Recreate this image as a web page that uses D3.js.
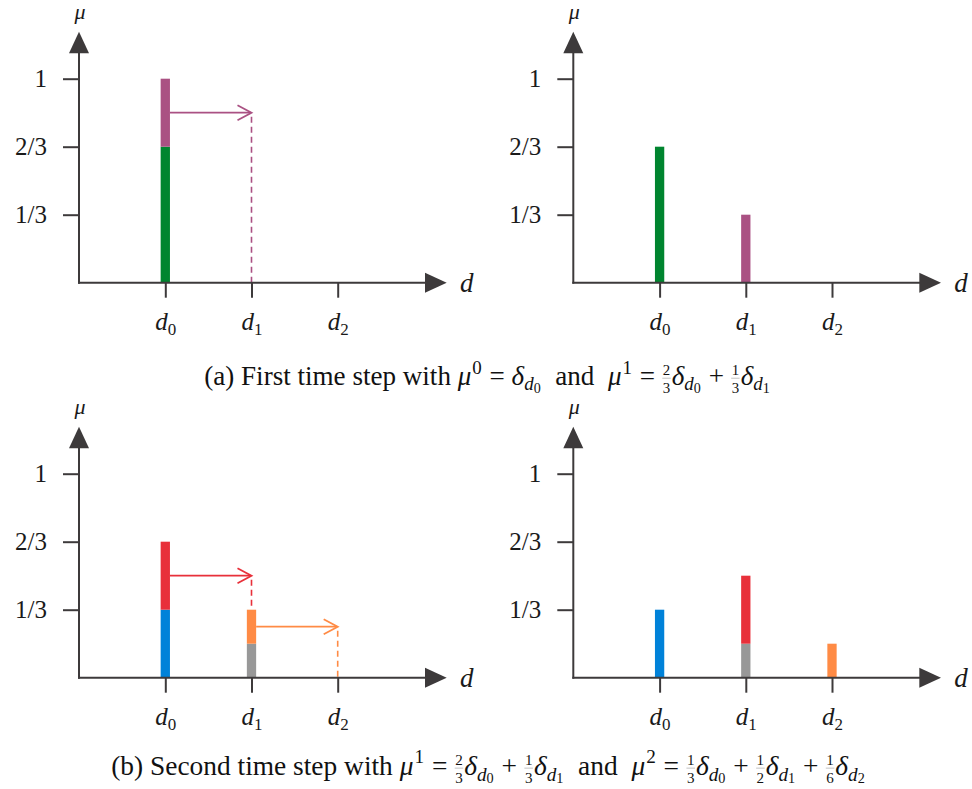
<!DOCTYPE html>
<html><head><meta charset="utf-8">
<script src="https://cdn.jsdelivr.net/npm/d3@7"></script>
<style>body{margin:0;background:#fff} text{white-space:pre}</style>
</head><body><svg id="chart" width="972" height="789"></svg>
<script>
// ---------- data ----------
const categories = ["d0", "d1", "d2"];
const categorySubs = ["0", "1", "2"];
const yTickValues = [1/3, 2/3, 1];
const yTickLabels = ["1/3", "2/3", "1"];

// stacked segments: [category, series, lower, upper]
const segmentsA0 = [["d0","greenA",0,2/3], ["d0","purpleA",2/3,1]];
const segmentsA1 = [["d0","greenA",0,2/3], ["d1","purpleA",0,1/3]];
const segmentsB0 = [["d0","blueB",0,1/3], ["d0","redB",1/3,2/3], ["d1","grayB",0,1/6], ["d1","orangeB",1/6,1/3]];
const segmentsB1 = [["d0","blueB",0,1/3], ["d1","grayB",0,1/6], ["d1","redB",1/6,1/2], ["d2","orangeB",0,1/6]];

// transport arrows: [from, to, level, dashed-line bottom, series]
const arrowsA0 = [["d0","d1",5/6,0,"purpleA"]];
const arrowsB0 = [["d0","d1",1/2,1/3,"redB"], ["d1","d2",1/4,0,"orangeB"]];

const seriesColors = {greenA:"#00852f", purpleA:"#aa5183", blueB:"#0082d9", redB:"#e8303a", grayB:"#989898", orangeB:"#ff8b45"};

// captions: [kind, text(, text)]
const captionA = [["r","(a) First time step with "],["i","μ"],["sup","0"],["r"," = "],["i","δ"],["subi","d"],["subsub","0"],["r","  and  "],
  ["i","μ"],["sup","1"],["r"," = "],["frac","2","3"],["i","δ"],["subi","d"],["subsub","0"],["r"," + "],["frac","1","3"],["i","δ"],["subi","d"],["subsub","1"]];
const captionB = [["r","(b) Second time step with "],["i","μ"],["sup","1"],["r"," = "],["frac","2","3"],["i","δ"],["subi","d"],["subsub","0"],["r"," + "],["frac","1","3"],["i","δ"],["subi","d"],["subsub","1"],["r","  and  "],
  ["i","μ"],["sup","2"],["r"," = "],["frac","1","3"],["i","δ"],["subi","d"],["subsub","0"],["r"," + "],["frac","1","2"],["i","δ"],["subi","d"],["subsub","1"],["r"," + "],["frac","1","6"],["i","δ"],["subi","d"],["subsub","2"]];

// ---------- layout ----------
const svg = d3.select("#chart");
const FONT = "Liberation Serif";
const AX = "#3d3a3b";
const UNIT = 204, BW = 9.3;
const x = d3.scalePoint().domain(categories).range([86.3, 258.7]);
const y = d3.scaleLinear().domain([0, 1]).range([0, -UNIT]);

const panels = [
  {ox:79, oy:282.7, seg:segmentsA0, arr:arrowsA0},
  {ox:573.3, oy:282.7, seg:segmentsA1, arr:[]},
  {ox:79, oy:677.7, seg:segmentsB0, arr:arrowsB0},
  {ox:573.3, oy:677.7, seg:segmentsB1, arr:[]}
];

panels.forEach(p => {
  const g = svg.append("g").attr("transform", `translate(${p.ox},${p.oy})`);
  g.selectAll("rect.bar").data(p.seg).join("rect").attr("class","bar")
    .attr("x", d => x(d[0]) - BW/2).attr("width", BW)
    .attr("y", d => y(d[3])).attr("height", d => y(d[2]) - y(d[3]))
    .attr("fill", d => seriesColors[d[1]]);
  p.arr.forEach(a => {
    const col = seriesColors[a[4]];
    const x0 = x(a[0]) + BW/2, x1 = x(a[1]), yy = y(a[2]);
    g.append("line").attr("x1", x0).attr("x2", x1 - 1).attr("y1", yy).attr("y2", yy)
      .attr("stroke", col).attr("stroke-width", 1.7);
    g.append("path").attr("d", `M${x1-14},${yy-7.5}L${x1},${yy}L${x1-14},${yy+7.5}`)
      .attr("fill","none").attr("stroke", col).attr("stroke-width", 1.8);
    g.append("line").attr("x1", x1).attr("x2", x1).attr("y1", yy + 4).attr("y2", y(a[3]))
      .attr("stroke", col).attr("stroke-width", 1.6).attr("stroke-dasharray", "6,4");
  });
  const ya = g.append("g").call(d3.axisLeft(y).tickValues(yTickValues)
      .tickFormat((d, i) => yTickLabels[i]).tickSize(16).tickPadding(16));
  ya.attr("font-family", FONT).attr("font-size", 25);
  ya.select(".domain").remove();
  ya.selectAll("line").attr("stroke", AX).attr("stroke-width", 2);
  ya.selectAll("text").attr("fill", "#1a1a1a").attr("dy", "0.33em");
  const xa = g.append("g").call(d3.axisBottom(x).tickSize(15).tickPadding(16).tickFormat(() => ""));
  xa.attr("font-family", FONT).attr("font-size", 25);
  xa.select(".domain").remove();
  xa.selectAll("line").attr("stroke", AX).attr("stroke-width", 2);
  xa.selectAll("text").each(function(d, i) {
    const t = d3.select(this).attr("fill", "#1a1a1a").attr("dy", "0.64em");
    t.append("tspan").attr("font-style", "italic").text("d");
    t.append("tspan").attr("font-size", 17).attr("dy", 5).text(categorySubs[i]);
  });
  g.append("line").attr("x1", 0).attr("x2", 0).attr("y1", 1).attr("y2", -231).attr("stroke", AX).attr("stroke-width", 2);
  g.append("line").attr("x1", -1).attr("x2", 347).attr("y1", 0).attr("y2", 0).attr("stroke", AX).attr("stroke-width", 2);
  g.append("path").attr("d", "M0,-251L-10,-229.5L10,-229.5Z").attr("fill", AX);
  g.append("path").attr("d", "M367.7,0L346,-10L346,10Z").attr("fill", AX);
  g.append("text").attr("x", 1).attr("y", -263.5).attr("text-anchor", "middle")
    .attr("font-family", FONT).attr("font-style", "italic").attr("font-size", 22).attr("fill", "#1a1a1a").text("μ");
  g.append("text").attr("x", 381).attr("y", 9.5)
    .attr("font-family", FONT).attr("font-style", "italic").attr("font-size", 27).attr("fill", "#1a1a1a").text("d");
});

// ---------- captions ----------
function layoutCaption(g, tokens, F) {
  g.selectAll("*").remove();
  let cx = 0;
  const add = (s, size, dy, italic, px) => g.append("text").attr("x", px).attr("y", dy).attr("font-family", FONT)
      .attr("font-size", size).attr("fill", "#111").attr("font-style", italic ? "italic" : "normal").text(s);
  tokens.forEach(tk => {
    const k = tk[0];
    if (k === "r" || k === "i") {
      const t = add(tk[1], F, 0, k === "i", cx); cx += t.node().getComputedTextLength();
    } else if (k === "sup") {
      const t = add(tk[1], F*0.7, -F*0.42, false, cx + 1); cx += t.node().getComputedTextLength() + 2;
    } else if (k === "subi") {
      const t = add(tk[1], F*0.7, F*0.2, true, cx); cx += t.node().getComputedTextLength();
    } else if (k === "subsub") {
      const t = add(tk[1], F*0.52, F*0.3, false, cx); cx += t.node().getComputedTextLength() + 1;
    } else if (k === "frac") {
      const n = add(tk[1], F*0.55, -F*0.38, false, cx + 1);
      const d = add(tk[2], F*0.55, F*0.3, false, cx + 1);
      const w = Math.max(n.node().getComputedTextLength(), d.node().getComputedTextLength());
      g.append("line").attr("x1", cx + 0.5).attr("x2", cx + 1.5 + w).attr("y1", -F*0.25).attr("y2", -F*0.25)
        .attr("stroke", "#999").attr("stroke-width", 0.6);
      cx += w + 2.5;
    }
  });
  return cx;
}
function caption(tokens, cxTarget, baseline, widthTarget) {
  const g = svg.append("g");
  const w0 = layoutCaption(g, tokens, 20);
  const F = 20 * widthTarget / w0;
  const w = layoutCaption(g, tokens, F);
  g.attr("transform", `translate(${cxTarget - w/2},${baseline})`);
}
caption(captionA, 487.5, 385, 571);
caption(captionB, 488.5, 775, 763);
</script></body></html>
